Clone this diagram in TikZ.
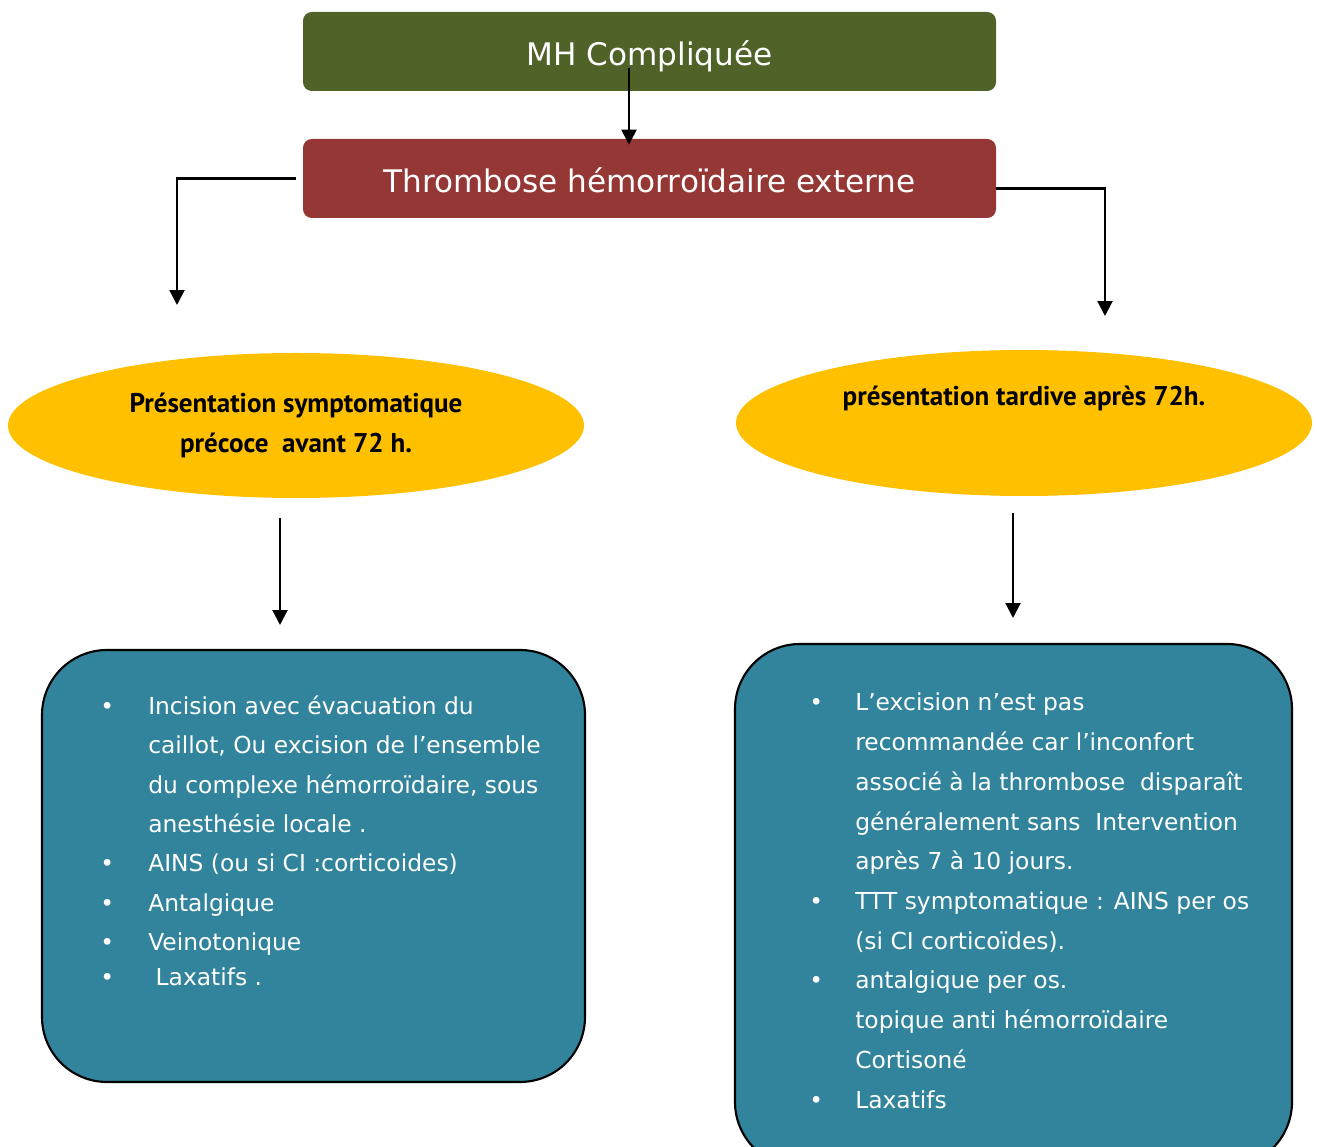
\documentclass[tikz,border=0pt]{standalone}
\usepackage{fontspec}
\setmainfont{DejaVu Sans}
\newfontfamily\casefont{PT Sans}
\usepackage{xcolor}
\usetikzlibrary{arrows.meta,positioning,shapes.geometric}
\definecolor{mhgreen}{HTML}{4F6228}
\definecolor{mhred}{HTML}{953735}
\definecolor{mhyellow}{HTML}{FFC000}
\definecolor{mhteal}{HTML}{31849B}
\newcommand{\blt}{\textbullet}
\begin{document}
\begin{tikzpicture}[
      head/.style={rounded corners=5pt, text=white,
                  minimum width=13.86cm, minimum height=1.58cm,
                  text height=16.3pt, text depth=0pt,
                  font=\fontsize{17.7}{22}\selectfont},
      case/.style={ellipse, fill=mhyellow, inner sep=0pt,
                  minimum width=11.52cm, minimum height=2.9cm,
                  font=\casefont\fontsize{15.4}{22.7}\selectfont\bfseries, align=center},
      ttt/.style={draw, line width=1.2pt, fill=mhteal, rounded corners=1.3cm},
      lst/.style={anchor=base west, inner sep=0pt, text=white,
                  font=\fontsize{13.3}{22.4}\selectfont},
      arr/.style={-{Triangle[width=8.5pt,length=8.5pt]}, line width=1.25pt}
  ]
    \clip (0,0) rectangle (26.34,22.94);
    \node[head, fill=mhgreen] (mh) at (12.99,21.91) {MH Compliquée};
    \node[head, fill=mhred] (the) at (12.99,19.37) {Thrombose hémorroïdaire externe};
    \node[case] (early) at (5.92,14.43) {Présentation symptomatique\\ précoce\ \ avant 72 h.};
    \node[case, minimum height=2.92cm] (late) at (20.48,14.48) {présentation tardive après 72h.\\[8pt] \mbox{}};
    \node[ttt, minimum width=10.86cm, minimum height=8.64cm] (lbox) at (6.27,5.62) {};
    \node[ttt, minimum width=11.14cm, minimum height=10.46cm] (rbox) at (20.27,4.83) {};
    % lists
    \node[lst] (llist) at ([shift={(1.18,-1.31)}]lbox.north west) {%
      \begin{tabular}[t]{@{}p{0.96cm}@{}l@{}}
        \blt & Incision avec évacuation du\\
             & caillot, Ou excision de l’ensemble\\
             & du complexe hémorroïdaire, sous\\
             & anesthésie locale .\\
        \blt & AINS (ou si CI :corticoides)\\
        \blt & Antalgique\\
        \blt & Veinotonique\\[-2.3pt]
        \blt & \ Laxatifs .
      \end{tabular}};
    \node[lst, font=\fontsize{13.3}{22.6}\selectfont] (rlist) at ([shift={(1.5,-1.36)}]rbox.north west) {%
      \begin{tabular}[t]{@{}p{0.92cm}@{}l@{}}
        \blt & L'excision n'est pas\\
             & recommandée car l'inconfort\\
             & associé à la thrombose\ \ disparaît\\
             & généralement sans\ \ Intervention\\
             & après 7 à 10 jours.\\
        \blt & TTT symptomatique : AINS per os\\
             & (si CI corticoïdes).\\
        \blt & antalgique per os.\\
             & topique anti hémorroïdaire\\
             & Cortisoné\\
        \blt & Laxatifs
      \end{tabular}};
    % connectors
    \coordinate (top) at (12.58,21.58);
    \coordinate (ltip) at (3.54,16.84);
    \coordinate (rtip) at (22.1,16.62);
    \coordinate (l1) at (5.6,12.58);  \coordinate (l2) at (5.6,10.44);
    \coordinate (r1) at (20.26,12.68); \coordinate (r2) at (20.26,10.58);
    \draw[arr, shorten >=-0.12cm] (top) -- (top |- the.north);
    \draw[arr] ([xshift=-0.14cm]the.west) -| (ltip);
    \draw[arr] ([yshift=-0.2cm]the.east) -| (rtip);
    \draw[arr] (l1) -- (l2);
    \draw[arr] (r1) -- (r2);
  \end{tikzpicture}
\end{document}
